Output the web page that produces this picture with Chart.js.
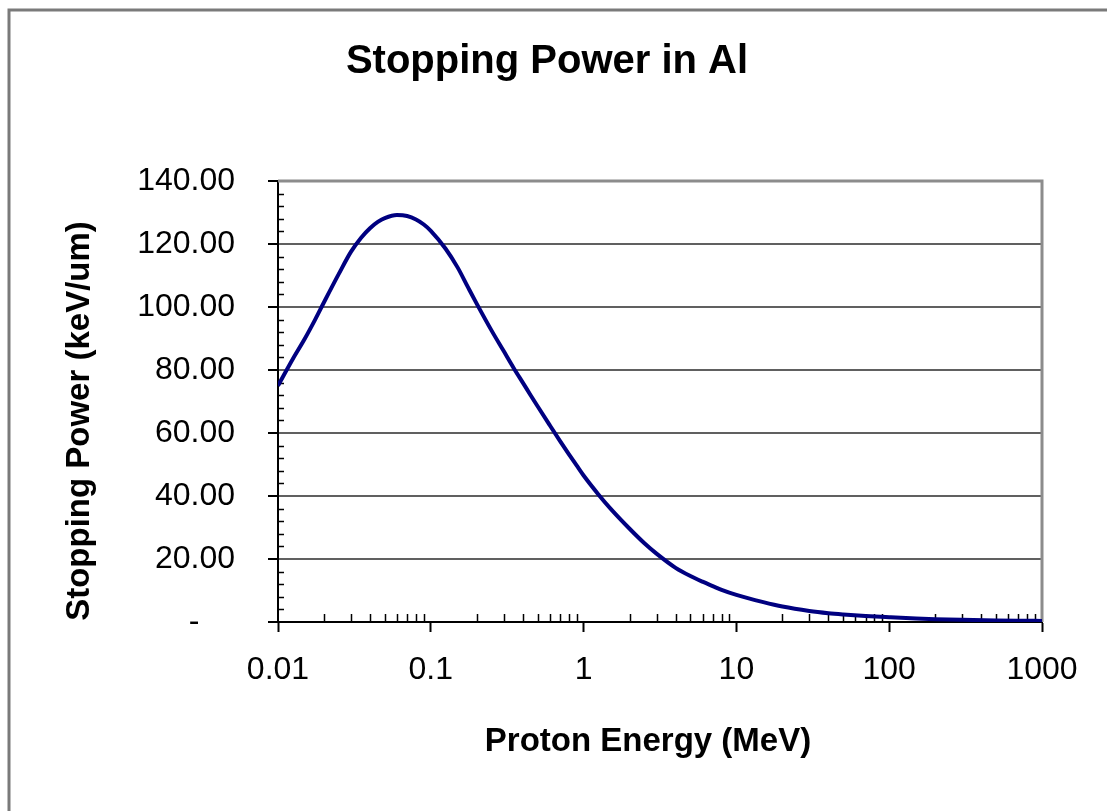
<!DOCTYPE html>
<html lang="en">
<head>
  <meta charset="UTF-8">
  <title>Stopping Power in Al</title>
  <style>
    body { margin: 0; background: #fff; }
    canvas { display: block; }
  </style>
</head>
<body>
  <canvas id="spChart" width="1107" height="811"></canvas>

  <script src="https://cdn.jsdelivr.net/npm/chart.js"></script>
  <script>
    // Data
    const energies = [0.01, 0.0125, 0.015, 0.0175, 0.02, 0.025, 0.03, 0.035, 0.04, 0.045, 0.05, 0.06, 0.07, 0.08, 0.09,
      0.1, 0.125, 0.15, 0.175, 0.2, 0.25, 0.3, 0.35, 0.4, 0.45, 0.5, 0.6, 0.7, 0.8, 0.9,
      1, 1.25, 1.5, 2, 2.5, 3, 4, 5, 6, 7, 8, 10, 15, 20, 30, 40, 50, 70, 100, 150, 200, 300, 500, 700, 1000];
    const stopping = [75, 83.5, 90, 96, 101.5, 110.5, 117.5, 122, 125, 127, 128.2, 129.2, 128.9, 127.8, 126.2,
      124.2, 118.5, 112.5, 106.3, 101, 92.5, 86, 80.5, 76, 72, 68.5, 62.5, 57.5, 53.3, 49.7,
      46.5, 40.5, 36, 29.6, 25, 21.7, 17.2, 14.6, 12.8, 11.4, 10.2, 8.6, 6.3, 4.9, 3.5, 2.8, 2.4, 1.9, 1.5, 1.1, 0.9, 0.7, 0.5, 0.4, 0.35];

    const xTickLabels = ['0.01', '0.1', '1', '10', '100', '1000'];
    const yTickLabels = ['-    ', '20.00', '40.00', '60.00', '80.00', '100.00', '120.00', '140.00'];

    const chartTitle = 'Stopping Power in Al';
    const xTitle = 'Proton Energy (MeV)';
    const yTitle = 'Stopping Power (keV/um)';

    const FONT = "'Liberation Sans', Arial, sans-serif";

    function isPow10(v) {
      const e = Math.log10(v);
      return Math.abs(e - Math.round(e)) < 1e-9;
    }

    // ticks for the log axis: 1..9 in each decade
    const xTicks = [];
    for (let e = -2; e < 3; e++) {
      for (let m = 1; m < 10; m++) xTicks.push(parseFloat((m * Math.pow(10, e)).toPrecision(3)));
    }
    xTicks.push(1000);

    // frame, plot border, minor ticks and titles
    const decorations = {
      id: 'decorations',
      beforeDraw(chart) {
        const ctx = chart.ctx;
        ctx.save();
        ctx.fillStyle = '#fff';
        ctx.fillRect(0, 0, chart.width, chart.height);
        ctx.strokeStyle = '#7a7a7a';
        ctx.lineWidth = 3;
        ctx.beginPath();
        ctx.moveTo(9, chart.height);
        ctx.lineTo(9, 10);
        ctx.lineTo(chart.width, 10);
        ctx.stroke();
        ctx.restore();
      },
      beforeDatasetsDraw(chart) {
        const { ctx, chartArea: a, scales } = chart;
        ctx.save();
        ctx.strokeStyle = '#8c8c8c';
        ctx.lineWidth = 3;
        ctx.beginPath();
        ctx.moveTo(a.left, a.top);
        ctx.lineTo(a.right, a.top);
        ctx.lineTo(a.right, a.bottom);
        ctx.stroke();

        // minor ticks, drawn inside the plot
        ctx.strokeStyle = '#000';
        ctx.lineWidth = 1.5;
        ctx.beginPath();
        for (let v = 4; v < 140; v += 4) {
          if (v % 20 === 0) continue;
          const y = Math.round(scales.y.getPixelForValue(v)) + 0.5;
          ctx.moveTo(a.left, y);
          ctx.lineTo(a.left + 6, y);
        }
        scales.x.ticks.forEach(t => {
          if (isPow10(t.value)) return;
          const x = Math.round(scales.x.getPixelForValue(t.value)) + 0.5;
          ctx.moveTo(x, a.bottom);
          ctx.lineTo(x, a.bottom - 8);
        });
        ctx.stroke();
        ctx.restore();
      },
      afterDraw(chart) {
        const ctx = chart.ctx;
        ctx.save();
        ctx.fillStyle = '#000';
        ctx.textAlign = 'center';
        ctx.textBaseline = 'middle';
        ctx.font = 'bold 40px ' + FONT;
        ctx.fillText(chartTitle, 547, 62);
        ctx.font = 'bold 33px ' + FONT;
        ctx.fillText(xTitle, 648, 742);
        ctx.translate(80, 421);
        ctx.rotate(-Math.PI / 2);
        ctx.fillText(yTitle, 0, 0);
        ctx.restore();
      }
    };

    const ctx = document.getElementById('spChart').getContext('2d');
    new Chart(ctx, {
      type: 'line',
      data: {
        datasets: [{
          data: energies.map((e, i) => ({ x: e, y: stopping[i] })),
          borderColor: '#000080',
          borderWidth: 4,
          pointRadius: 0,
          cubicInterpolationMode: 'monotone',
          fill: false
        }]
      },
      options: {
        responsive: false,
        animation: false,
        layout: { padding: { left: 0, right: 65, top: 181, bottom: 0 } },
        plugins: {
          legend: { display: false },
          tooltip: { enabled: false },
          title: { display: false }
        },
        scales: {
          x: {
            type: 'logarithmic',
            min: 0.01,
            max: 1000,
            afterBuildTicks: scale => {
              scale.ticks = xTicks.map(v => ({ value: v, major: isPow10(v) }));
            },
            afterFit: scale => { scale.height = 189; },
            border: { color: '#000', width: 2 },
            grid: {
              drawOnChartArea: false,
              tickLength: 10,
              tickWidth: 2,
              tickColor: c => (c.tick && isPow10(c.tick.value)) ? '#000' : 'rgba(0,0,0,0)'
            },
            ticks: {
              autoSkip: false,
              maxRotation: 0,
              minRotation: 0,
              padding: 19,
              color: '#000',
              font: { family: FONT, size: 32 },
              callback: value => isPow10(value) ? xTickLabels[Math.round(Math.log10(value)) + 2] : ''
            }
          },
          y: {
            min: 0,
            max: 140,
            afterFit: scale => { scale.width = 278; },
            border: { color: '#000', width: 2 },
            grid: {
              color: '#606060',
              lineWidth: 2,
              tickLength: 10,
              tickWidth: 2,
              tickColor: '#000'
            },
            ticks: {
              stepSize: 20,
              padding: 33,
              color: '#000',
              font: { family: FONT, size: 32 },
              callback: (value) => yTickLabels[Math.round(value / 20)]
            }
          }
        }
      },
      plugins: [decorations]
    });
  </script>
</body>
</html>
